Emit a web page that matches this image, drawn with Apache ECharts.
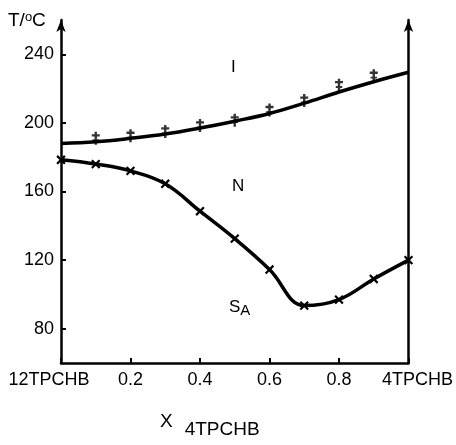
<!DOCTYPE html>
<html>
<head>
<meta charset="utf-8">
<script src="https://cdn.jsdelivr.net/npm/echarts@6/dist/echarts.min.js"></script>
<style>
  html, body { margin: 0; padding: 0; background: #fff; }
  #chart { width: 456px; height: 445px; }
</style>
</head>
<body>
<div id="chart"></div>
<script>
  // mole fraction of 4TPCHB
  const xs = [0, 0.1, 0.2, 0.3, 0.4, 0.5, 0.6, 0.7, 0.8, 0.9, 1.0]
  // I-N clearing curve (drawn line)
  const iniCurve = [188, 189, 191, 193.5, 197, 201, 205.5, 211.5, 218, 224, 229.5]
  // measured I-N points (+)
  const iniPtsX = [0.1, 0.2, 0.3, 0.4, 0.5, 0.6, 0.7, 0.8, 0.9]
  const iniPts = [191, 192.5, 195, 198.5, 201.5, 207.5, 213, 222, 227.5]
  // N-SA transition (x)
  const nsa = [178.5, 176, 172, 164.5, 148.5, 132.5, 114.5, 93.5, 97, 109, 120]
  const yTicks = [80, 120, 160, 200, 240]

  const font = 'Liberation Sans'
  const pair = (a, b) => a.map((v, i) => [v, b[i]])

  const chart = echarts.init(document.getElementById('chart'))
  chart.setOption({
    animation: false,
    grid: { left: 61, right: 46, top: 20, bottom: 82 },
    xAxis: {
      type: 'value',
      min: 0,
      max: 1,
      interval: 0.2,
      splitLine: { show: false },
      axisLine: { lineStyle: { color: '#000', width: 2.5 } },
      axisTick: { inside: true, length: 5, lineStyle: { color: '#000', width: 2 } },
      axisLabel: {
        margin: 8,
        color: '#000',
        fontFamily: font,
        fontSize: 18,
        showMinLabel: true,
        showMaxLabel: true,
        formatter: function (v) {
          if (v === 0) return '{l|12TPCHB}'
          if (v === 1) return '{r|4TPCHB}'
          return v.toFixed(1)
        },
        rich: {
          l: { fontFamily: font, fontSize: 18, color: '#000', padding: [0, 24, 0, 0] },
          r: { fontFamily: font, fontSize: 18, color: '#000', padding: [0, 0, 0, 18] },
        },
      },
    },
    yAxis: [
      {
        type: 'value',
        min: 60,
        max: 260,
        splitLine: { show: false },
        axisLine: {
          show: true,
          symbol: ['none', 'arrow'],
          symbolSize: [7, 12],
          lineStyle: { color: '#000', width: 2.5 },
        },
        axisTick: { inside: true, length: 5, customValues: yTicks, lineStyle: { color: '#000', width: 2 } },
        axisLabel: { customValues: yTicks, margin: 7, color: '#000', fontFamily: font, fontSize: 18 },
      },
      {
        type: 'value',
        position: 'right',
        min: 60,
        max: 260,
        splitLine: { show: false },
        axisLine: {
          show: true,
          symbol: ['none', 'arrow'],
          symbolSize: [7, 12],
          lineStyle: { color: '#000', width: 2.5 },
        },
        axisTick: { show: false },
        axisLabel: { show: false },
      },
    ],
    graphic: [
      {
        type: 'text',
        left: 8,
        top: 11,
        style: {
          text: 'T/{o|o}C',
          fill: '#000',
          font: '19px "Liberation Sans"',
          rich: { o: { fontSize: 13, fontFamily: font, verticalAlign: 'top', fill: '#000' } },
        },
      },
      { type: 'text', left: 231, top: 59, style: { text: 'I', fill: '#000', font: '17px "Liberation Sans"' } },
      { type: 'text', left: 232, top: 178, style: { text: 'N', fill: '#000', font: '17px "Liberation Sans"' } },
      {
        type: 'text',
        left: 229,
        top: 299,
        style: {
          text: 'S{a|A}',
          fill: '#000',
          font: '17px "Liberation Sans"',
          rich: { a: { fontSize: 15, fontFamily: font, verticalAlign: 'bottom', padding: [6, 0, 0, 0], fill: '#000' } },
        },
      },
      {
        type: 'text',
        left: 160,
        top: 412,
        style: {
          text: 'X{s|4TPCHB}',
          fill: '#000',
          font: '19px "Liberation Sans"',
          rich: { s: { fontSize: 19, fontFamily: font, verticalAlign: 'bottom', padding: [16, 0, 0, 12], fill: '#000' } },
        },
      },
    ],
    series: [
      {
        type: 'line',
        data: pair(xs, iniCurve),
        smooth: 0.4,
        showSymbol: false,
        lineStyle: { color: '#000', width: 3.5 },
      },
      {
        type: 'scatter',
        data: pair(iniPtsX, iniPts),
        symbol: 'path://M3.5,0H6.5V14H3.5Z M0,2.5H10V5H0Z M1,8H9V10H1Z',
        symbolSize: [8, 13],
        itemStyle: { color: '#000' },
      },
      {
        type: 'line',
        data: pair(xs, nsa),
        smooth: 0.4,
        symbol: 'path://M4,0H6V10H4Z M0,4H10V6H0Z',
        symbolSize: 11,
        symbolRotate: 45,
        itemStyle: { color: '#000' },
        lineStyle: { color: '#000', width: 3.5 },
      },
    ],
  })
</script>
</body>
</html>
